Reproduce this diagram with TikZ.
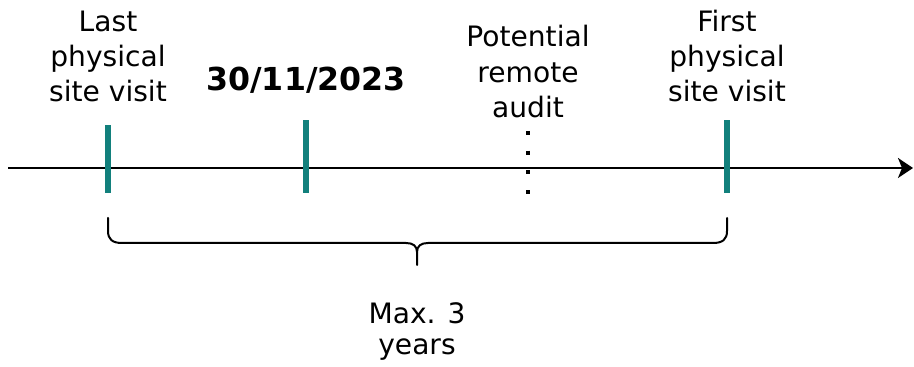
\documentclass[tikz,border=0pt]{standalone}
\usepackage{fontspec}
\setmainfont{DejaVu Sans}
\usepackage{tikz}
\usetikzlibrary{arrows.meta,positioning,calc}
\definecolor{teal}{RGB}{18,128,124}
\tikzset{
visit/.style = {draw=none, fill=teal, rectangle, inner sep=0pt, minimum width=0.12cm},
txt/.style = {align=center, inner sep=0pt, font=\fontsize{16}{20}\selectfont},
datetxt/.style = {inner sep=0pt, font=\fontsize{18}{20}\selectfont\bfseries},
axis/.style = {line width=0.045cm, -{Stealth[length=0.3cm,width=0.4cm,inset=0.08cm]}},
bracestyle/.style = {line width=0.04cm, line cap=round}
}
\begin{document}
\begin{tikzpicture}
                \useasboundingbox (0,0) rectangle (18.28,7.34);
                \coordinate (start) at (0.16,3.98);
                \coordinate (end) at (18.26,3.98);
                \draw [axis] (start) -- (end);
                \node [visit, minimum height=1.36cm] (last) at (2.16,4.16) {};
                \node [visit, minimum height=1.46cm] (date) at (6.12,4.21) {};
                \node [visit, minimum height=1.46cm] (first) at (14.54,4.21) {};
                \coordinate (dtop) at (10.56,4.72);
                \coordinate (dbot) at (10.56,3.44);
                \draw [line width=0.08cm, dash pattern=on 0.08cm off 0.315cm] (dtop) -- (dbot);
                \node [txt, above=0.26cm of dtop] (remotelabel) {Potential\\remote\\audit};
                \node [txt, above=0.44cm of last] (lastlabel) {Last\\physical\\site visit};
                \node [datetxt, above=0.52cm of date] (datelabel) {30/11/2023};
                \node [txt, above=0.34cm of first] (firstlabel) {First\\physical\\site visit};
                % brace
                \coordinate (bl) at (2.16,2.98);
                \coordinate (br) at (14.54,2.98);
                \coordinate (tip) at (8.34,2.04);
                \draw [bracestyle] (bl) -- (2.16,2.72) .. controls (2.16,2.55) and (2.25,2.48) .. (2.44,2.48) -- (8.12,2.48) .. controls (8.26,2.48) and (8.34,2.42) .. (8.34,2.30) -- (tip);
                \draw [bracestyle] (br) -- (14.54,2.72) .. controls (14.54,2.55) and (14.45,2.48) .. (14.26,2.48) -- (8.56,2.48) .. controls (8.42,2.48) and (8.34,2.42) .. (8.34,2.30);
                \node [txt, below=0.74cm of tip, font=\fontsize{16}{18}\selectfont] (span) {Max. 3\\years};
            \end{tikzpicture}
\end{document}
